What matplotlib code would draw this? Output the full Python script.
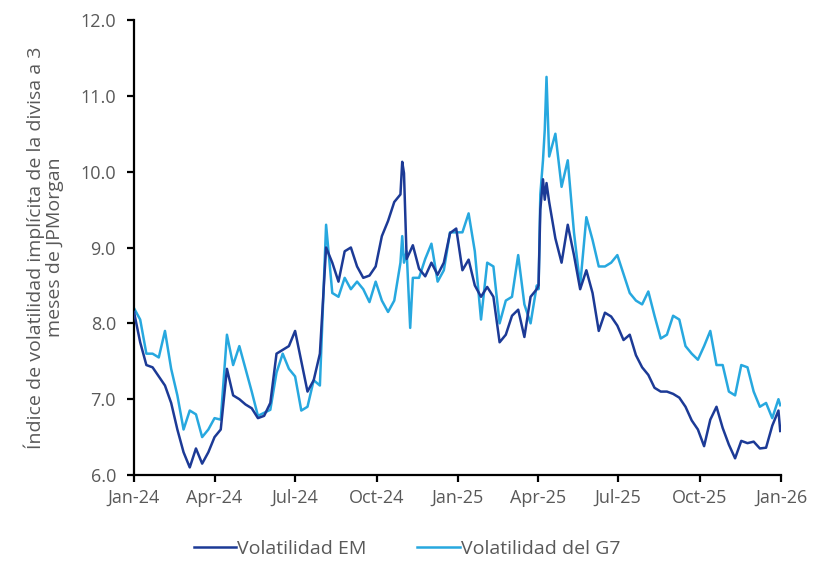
import matplotlib
matplotlib.use("Agg")
import matplotlib.pyplot as plt
import matplotlib.dates as mdates
import pandas as pd
import numpy as np

# ---- data ----
weekly = list(pd.date_range("2024-01-01", periods=105, freq="7D"))
extra_dates = ["2024-10-30", "2024-11-01", "2024-11-08",
               "2025-04-02", "2025-04-04", "2025-04-09", "2025-04-11", "2025-12-31"]
dates = sorted(weekly + list(pd.to_datetime(extra_dates)))

em_vol = [
    8.15, 7.75, 7.45, 7.42, 7.30, 7.18, 6.95, 6.60, 6.30, 6.10,   # Jan-Mar 24
    6.35, 6.15, 6.30, 6.50, 6.60, 7.40, 7.05, 7.00, 6.93, 6.88,   # Mar-May 24
    6.75, 6.78, 6.95, 7.60, 7.65, 7.70, 7.90, 7.50, 7.10, 7.25,   # May-Jul 24
    7.60, 9.00, 8.80, 8.55, 8.95, 9.00, 8.75, 8.60, 8.63, 8.75,   # Jul-Sep 24
    9.15, 9.35, 9.60, 9.70,                                       # Oct 24
    10.13, 9.98,                                                  # Oct 30, Nov 1
    8.85,                                                         # Nov 4
    8.95,                                                         # Nov 8
    9.03, 8.72, 8.62, 8.80, 8.64, 8.80, 9.19, 9.25,               # Nov-Dec 24
    8.70, 8.84, 8.50, 8.35, 8.48, 8.35, 7.75, 7.85, 8.10, 8.18,   # Jan-Mar 25
    7.82, 8.35, 8.45,                                             # Mar 25
    8.50, 9.50,                                                   # Apr 2, Apr 4
    9.90,                                                         # Apr 7
    9.63, 9.85,                                                   # Apr 9, Apr 11
    9.60, 9.12, 8.80, 9.30, 8.90, 8.45, 8.70, 8.40, 7.90, 8.14,   # Apr-Jun 25
    8.09, 7.97, 7.78, 7.85, 7.58, 7.42, 7.32, 7.15, 7.10, 7.10,   # Jun-Aug 25
    7.07, 7.02, 6.90, 6.72, 6.60, 6.38, 6.73, 6.90, 6.62, 6.40,   # Aug-Oct 25
    6.22, 6.45, 6.42, 6.44, 6.35, 6.36, 6.65, 6.85,               # Nov-Dec 25
    6.58,                                                         # Dec 31
]

g7_vol = [
    8.20, 8.05, 7.60, 7.60, 7.55, 7.90, 7.40, 7.05, 6.60, 6.85,
    6.80, 6.50, 6.60, 6.75, 6.73, 7.85, 7.45, 7.70, 7.40, 7.10,
    6.78, 6.82, 6.86, 7.35, 7.60, 7.40, 7.30, 6.85, 6.90, 7.25,
    7.18, 9.30, 8.40, 8.35, 8.60, 8.45, 8.55, 8.45, 8.28, 8.55,
    8.30, 8.15, 8.30, 8.80,
    9.15, 8.80,
    8.95,
    7.94,
    8.60, 8.60, 8.85, 9.05, 8.55, 8.70, 9.20, 9.20,
    9.20, 9.45, 8.95, 8.05, 8.80, 8.75, 8.00, 8.30, 8.35, 8.90,
    8.25, 8.00, 8.50,
    8.45, 9.70,
    10.15,
    10.55, 11.25,
    10.20, 10.50, 9.80, 10.15, 9.20, 8.50, 9.40, 9.10, 8.75, 8.75,
    8.80, 8.90, 8.65, 8.40, 8.30, 8.25, 8.42, 8.10, 7.80, 7.85,
    8.10, 8.05, 7.70, 7.60, 7.52, 7.70, 7.90, 7.45, 7.45, 7.10,
    7.05, 7.45, 7.42, 7.10, 6.90, 6.95, 6.75, 7.00,
    6.92,
]

series_labels = ["Volatilidad EM", "Volatilidad del G7"]
y_ticks = [6.0, 7.0, 8.0, 9.0, 10.0, 11.0, 12.0]
x_tick_dates = pd.date_range("2024-01-01", "2026-01-01", freq="3MS")
x_tick_labels = ["Jan-24", "Apr-24", "Jul-24", "Oct-24", "Jan-25",
                 "Apr-25", "Jul-25", "Oct-25", "Jan-26"]
ylabel = "Índice de volatilidad implícita de la divisa a 3\nmeses de JPMorgan"

# ---- plot ----
plt.rcParams["font.family"] = ["Open Sans", "DejaVu Sans"]
gray = "#595959"
c_em = "#1c3a96"
c_g7 = "#27a8df"

fig = plt.figure(figsize=(8.14, 5.62), dpi=100)
ax = fig.add_axes([0.1646, 0.1548, 0.795, 0.8096])

ax.plot(dates, em_vol, color=c_em, lw=1.8, label=series_labels[0], zorder=3)
ax.plot(dates, g7_vol, color=c_g7, lw=1.8, label=series_labels[1], zorder=2)

ax.set_xlim(pd.Timestamp("2024-01-01"), pd.Timestamp("2026-01-01"))
ax.set_ylim(6.0, 12.0)
ax.set_yticks(y_ticks)
ax.set_yticklabels([f"{v:.1f}" for v in y_ticks])
ax.set_xticks(x_tick_dates)
ax.set_xticklabels(x_tick_labels)

for s in ["top", "right"]:
    ax.spines[s].set_visible(False)
for s in ["left", "bottom"]:
    ax.spines[s].set_color("black")
    ax.spines[s].set_linewidth(1.6)
ax.tick_params(axis="both", direction="out", length=5, width=1.6, color="black",
               labelcolor=gray, labelsize=13)
ax.tick_params(axis="x", pad=5)
ax.tick_params(axis="y", pad=8)

ax.set_ylabel(ylabel, color=gray, fontsize=14, linespacing=1.05, labelpad=12)

leg = fig.legend(loc="lower center", bbox_to_anchor=(0.5, -0.024), ncol=2, frameon=False,
                 fontsize=14, handlelength=2.2, handletextpad=0.05, columnspacing=2.6)
for t in leg.get_texts():
    t.set_color(gray)

fig.savefig("out.png", dpi=100)
